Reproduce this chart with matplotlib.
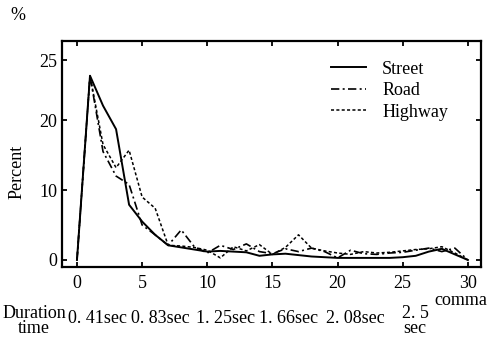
import numpy as np
import matplotlib
matplotlib.use("Agg")
import matplotlib.pyplot as plt

plt.rcParams['font.family'] = ['Liberation Serif', 'DejaVu Serif']

comma = np.arange(0, 31)
street = [0, 23.7, 21.2, 18.7, 7.9, 5.5, 3.6, 2.1, 1.8, 1.5, 1.2, 1.3, 1.2, 1.1, 0.6, 0.8,
          0.9, 0.7, 0.5, 0.4, 0.3, 0.3, 0.3, 0.3, 0.3, 0.4, 0.6, 1.2, 1.6, 0.8, 0]
road = [0, 23.7, 15.5, 12.0, 10.8, 5.0, 3.6, 2.1, 4.3, 1.9, 1.0, 2.1, 1.5, 2.3, 1.2, 0.9,
        1.6, 1.2, 1.7, 1.2, 0.3, 1.4, 0.9, 0.8, 1.0, 1.1, 1.4, 1.7, 1.2, 1.7, 0]
highway = [0, 23.7, 16.5, 13.2, 15.7, 9.0, 7.4, 2.1, 2.0, 1.8, 1.4, 0.3, 1.9, 1.3, 2.2, 0.8,
           1.8, 3.6, 1.7, 1.3, 1.0, 0.8, 1.2, 1.0, 1.1, 1.3, 1.5, 1.6, 1.9, 1.0, 0]

xticks = [0, 5, 10, 15, 20, 25, 30]
yticks = [0, 10, 20, 25]
durations = ["0. 41sec", "0. 83sec", "1. 25sec", "1. 66sec", "2. 08sec", "2. 5\nsec"]

# the printed y axis is stretched above 20
yv = [-10, 0, 20, 25, 40]
yp = [-70, 0, 140, 200, 380]
fwd = lambda v: np.interp(v, yv, yp)
inv = lambda p: np.interp(p, yp, yv)

fig = plt.figure(figsize=(4.9, 3.43), dpi=100)
ax = fig.add_axes([0.1265, 0.2216, 0.855, 0.659])
ax.set_yscale('function', functions=(fwd, inv))

ax.plot(comma, street, color='black', lw=1.4, label='Street')
ax.plot(comma, road, color='black', lw=1.2, dashes=(5, 2, 1.2, 2), label='Road')
ax.plot(comma, highway, color='black', lw=1.1, dashes=(2, 1.5), label='Highway')

ax.set_xlim(-1.15, 31)
ax.set_ylim(-1.0, 26.6)
ax.set_xticks(xticks)
ax.set_yticks(yticks)
ax.minorticks_off()
ax.tick_params(direction='in', length=3.5, width=1.3, top=True, right=True, labelsize=13)
ax.tick_params(axis='x', pad=6)
for s in ax.spines.values():
    s.set_linewidth(1.6)

ax.legend(loc='upper right', bbox_to_anchor=(0.96, 0.985), frameon=False, fontsize=13,
          handlelength=1.9, labelspacing=0.25, handletextpad=0.9)

fig.text(0.035, 0.50, "Percent", rotation=90, fontsize=13, ha='center', va='center')
fig.text(0.037, 0.955, "%", fontsize=13, ha='center', va='center')
fig.text(0.995, 0.125, "comma", fontsize=13, ha='right', va='center')
fig.text(0.07, 0.065, "Duration\ntime", fontsize=13, ha='center', va='center', linespacing=0.85)

dur_x = [97, 160, 226, 289, 355, 415]
for x, lab in zip(dur_x, durations):
    if "\n" in lab:
        fig.text(x / 490, 0.065, lab, fontsize=13, ha='center', va='center', linespacing=0.85)
    else:
        fig.text(x / 490, 0.072, lab, fontsize=13, ha='center', va='center')

fig.savefig("out.png", dpi=100)
